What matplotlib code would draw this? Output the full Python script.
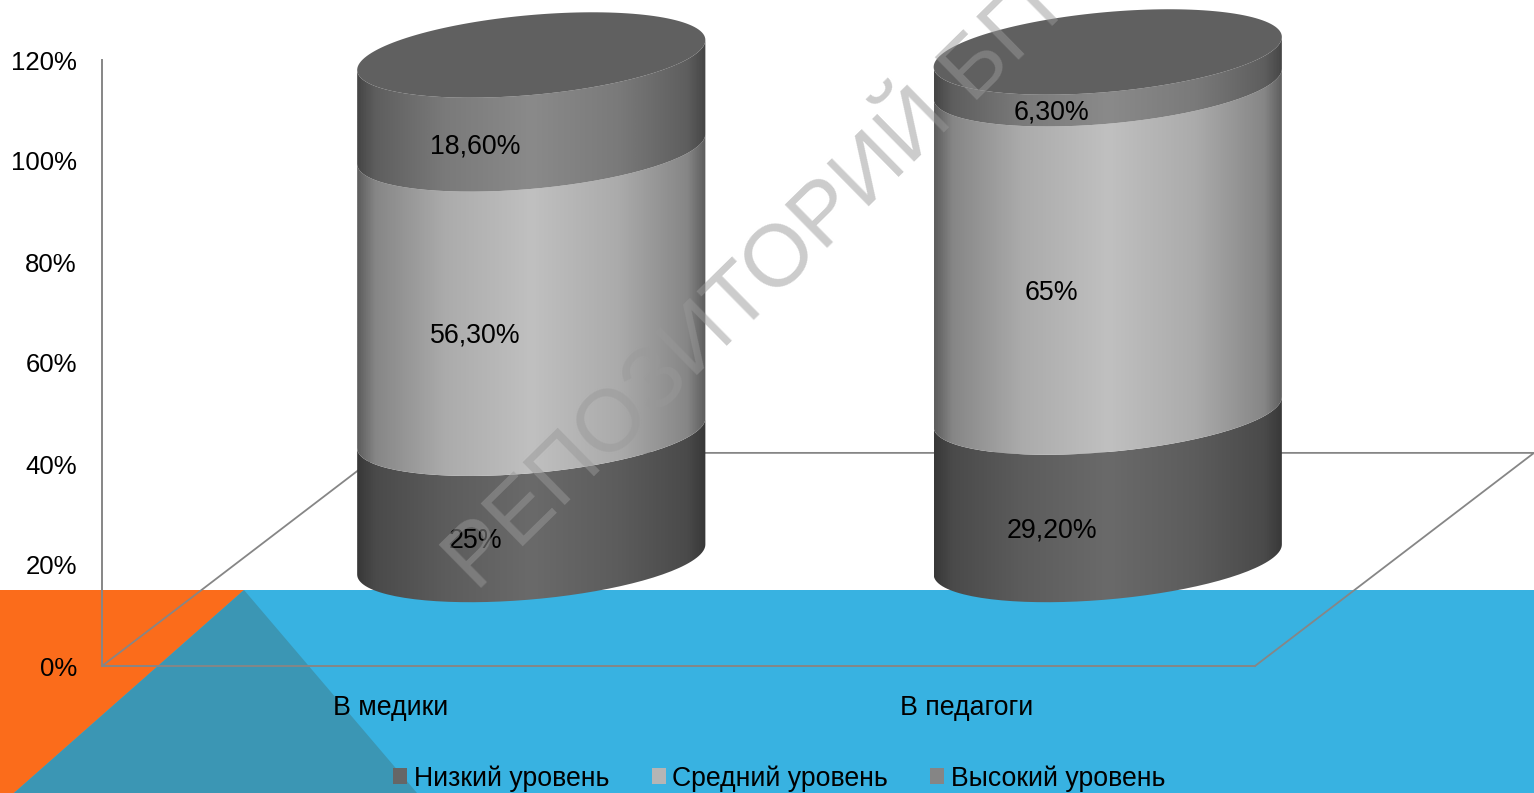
import numpy as np
import matplotlib
matplotlib.use("Agg")
import matplotlib.pyplot as plt
from matplotlib.colors import LinearSegmentedColormap
from matplotlib.patches import PathPatch, Polygon, Rectangle
from matplotlib.path import Path

plt.rcParams["font.family"] = ["Liberation Sans", "DejaVu Sans"]

categories = ["В медики", "В педагоги"]
series_names = ["Низкий уровень", "Средний уровень", "Высокий уровень"]
low = [25.0, 29.2]
mid = [56.3, 65.0]
high = [18.6, 6.3]
value_labels = [["25%", "29,20%"], ["56,30%", "65%"], ["18,60%", "6,30%"]]
yticks = [0, 20, 40, 60, 80, 100, 120]
ytick_labels = ["0%", "20%", "40%", "60%", "80%", "100%", "120%"]

W, H = 1534, 793
AX_L, AX_R, AX_T, AX_B = 102, 1255, 60, 666
GREY = "#868686"

# shape of the 3d cylinders, in axis units
DEPTH_X, DEPTH_Y = 0.2446, 21.09
FLOOR_X, FLOOR_Y = 0.484, 42.2
HALF_W = 0.302
TILT, MINOR = 2.97, 7.92
LABEL_DX = 0.147

# edge -> centre -> edge shades for each series
shades = [
    ["#383838", "#4a4a4a", "#5c5c5c", "#6a6a6a", "#5c5c5c", "#4a4a4a", "#383838"],
    ["#5e5e5e", "#868686", "#ababab", "#c0c0c0", "#ababab", "#868686", "#5e5e5e"],
    ["#464646", "#5e5e5e", "#7a7a7a", "#8a8a8a", "#7a7a7a", "#5e5e5e", "#464646"],
]
stops = [0, 0.05, 0.25, 0.5, 0.75, 0.95, 1]
legend_colors = ["#666666", "#b5b5b5", "#858585"]


def cylinder_side(cx, y0, y1):
    t = np.linspace(np.pi, 2 * np.pi, 80)
    xs = cx + HALF_W * np.cos(t)
    lower = TILT * np.cos(t) + MINOR * np.sin(t)
    px = np.concatenate([xs, xs[::-1]])
    py = np.concatenate([y0 + lower, y1 + lower[::-1]])
    return Path(np.column_stack([px, py]))


def cylinder_cap(cx, y):
    t = np.linspace(0, 2 * np.pi, 160)
    return Path(np.column_stack([cx + HALF_W * np.cos(t),
                                 y + TILT * np.cos(t) + MINOR * np.sin(t)]))


fig = plt.figure(figsize=(W / 100, H / 100), dpi=100, facecolor="white")

# slide background behind the chart
bg = fig.add_axes([0, 0, 1, 1], zorder=0)
bg.set_xlim(0, W)
bg.set_ylim(H, 0)
bg.axis("off")
bg.add_patch(Rectangle((0, 590), W, H - 590, color="#38B2E1", lw=0))
bg.add_patch(Polygon([(0, 590), (244, 590), (14, 793), (0, 793)], color="#FB6C1B", lw=0))
bg.add_patch(Polygon([(244, 590), (14, 793), (417, 793)], color="#3B96B4", lw=0))

ax = fig.add_axes([AX_L / W, (H - AX_B) / H, (AX_R - AX_L) / W, (AX_B - AX_T) / H], zorder=1)
ax.patch.set_alpha(0)
xlim = (-0.5, 1.5)
ylim = (0, 120)

for side in ["top", "right"]:
    ax.spines[side].set_visible(False)
for side in ["left", "bottom"]:
    ax.spines[side].set_color(GREY)
    ax.spines[side].set_linewidth(1.4)

# floor of the 3d plot
ax.plot([-0.5, -0.5 + FLOOR_X, 1.5 + FLOOR_X, 1.5],
        [0, FLOOR_Y, FLOOR_Y, 0], color=GREY, lw=1.3, clip_on=False, zorder=1)

gradient = np.linspace(0, 1, 400).reshape(1, -1)
for i in range(len(categories)):
    cx = i + DEPTH_X
    base = 0.0
    for j, values in enumerate([low, mid, high]):
        top = base + values[i]
        path = cylinder_side(cx, DEPTH_Y + base, DEPTH_Y + top)
        cmap = LinearSegmentedColormap.from_list(f"s{j}", list(zip(stops, shades[j])))
        im = ax.imshow(gradient, cmap=cmap, aspect="auto", zorder=3 + j * 0.1,
                       extent=(cx - HALF_W, cx + HALF_W, DEPTH_Y + base - 10, DEPTH_Y + top + 5))
        im.set_clip_path(PathPatch(path, transform=ax.transData))
        im.set_clip_box(fig.bbox)
        ax.text(i + LABEL_DX, DEPTH_Y - MINOR * 1.12 + (base + top) / 2, value_labels[j][i],
                ha="center", va="center", fontsize=19.3, color="black", zorder=6)
        base = top
    ax.add_patch(PathPatch(cylinder_cap(cx, DEPTH_Y + base), facecolor="#606060", lw=0,
                           zorder=4, clip_on=False))

ax.set_xlim(xlim)
ax.set_ylim(ylim)
ax.set_xticks(range(len(categories)), categories)
ax.set_yticks(yticks, ytick_labels)
ax.tick_params(axis="y", length=0, pad=18, labelsize=18.5)
ax.tick_params(axis="x", length=0, pad=21, labelsize=19.3)

handles = [Rectangle((0, 0), 1, 1, color=c, lw=0) for c in legend_colors]
fig.legend(handles, series_names, ncol=3, frameon=False, fontsize=19.2,
           loc="lower left", bbox_to_anchor=(388 / W, -4 / H), borderpad=0.2, borderaxespad=0,
           handlelength=0.53, handleheight=0.53, handletextpad=0.23, columnspacing=1.6)

# watermark
fig.text(476 / W, (H - 592) / H, "РЕПОЗИТОРИЙ БГПУ", rotation=44.5, rotation_mode="anchor",
         ha="left", va="baseline", fontsize=63.5, color="#999999", alpha=0.5, zorder=10)

fig.savefig("out.png", dpi=100)
